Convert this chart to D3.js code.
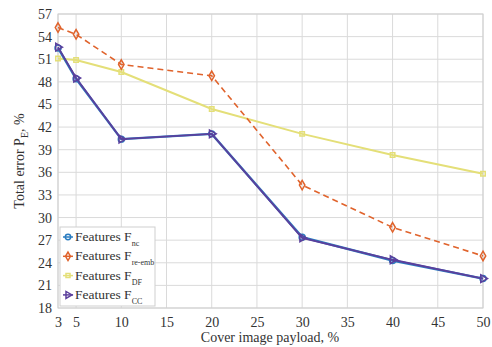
<!DOCTYPE html>
<html><head><meta charset="utf-8">
<script src="https://cdn.jsdelivr.net/npm/d3@7"></script>
<style>body{margin:0;background:#fff}svg{display:block}text{font-family:"Liberation Serif","Times New Roman",serif}</style>
</head><body>
<svg id="c" width="492" height="347"></svg>
<script>
const payload = [3, 5, 10, 20, 30, 40, 50];
const fNc = [52.5, 48.4, 40.4, 41.1, 27.4, 24.3, 21.9];
const fReEmb = [55.2, 54.3, 50.3, 48.8, 34.3, 28.7, 24.9];
const fDF = [51.1, 50.9, 49.3, 44.4, 41.1, 38.3, 35.8];
const fCC = [52.6, 48.5, 40.4, 41.1, 27.3, 24.4, 21.9];
const xTicks = [3, 5, 10, 15, 20, 25, 30, 35, 40, 45, 50];
const yTicks = [18, 21, 24, 27, 30, 33, 36, 39, 42, 45, 48, 51, 54, 57];
const seriesNames = ["nc", "re-emb", "DF", "CC"];

const svg = d3.select("#c");
const L = 58, R = 483, T = 14, B = 308;
const x = d3.scaleLinear().domain([3, 50]).range([L, R]);
const y = d3.scaleLinear().domain([18, 57]).range([B, T]);

// grid
const g = svg.append("g");
g.selectAll(".gx").data(xTicks).enter().append("line")
  .attr("x1", d => x(d)).attr("x2", d => x(d)).attr("y1", T).attr("y2", B)
  .attr("stroke", "#dadada").attr("stroke-width", 1);
g.selectAll(".gy").data(yTicks).enter().append("line")
  .attr("y1", d => y(d)).attr("y2", d => y(d)).attr("x1", L).attr("x2", R)
  .attr("stroke", "#dadada").attr("stroke-width", 1);
svg.append("rect").attr("x", L).attr("y", T).attr("width", R - L).attr("height", B - T)
  .attr("fill", "none").attr("stroke", "#cfcfcf").attr("stroke-width", 1);

// axes labels
const xa = d3.axisBottom(x).tickValues(xTicks).tickSize(0).tickPadding(9);
const xg = svg.append("g").attr("transform", `translate(0,${B})`).call(xa);
xg.select(".domain").remove();
xg.selectAll("text").attr("font-size", 14).attr("fill", "#333").style("font-family", "Liberation Serif");
const ya = d3.axisLeft(y).tickValues(yTicks).tickSize(0).tickPadding(6);
const yg = svg.append("g").attr("transform", `translate(${L},0)`).call(ya);
yg.select(".domain").remove();
yg.selectAll("text").attr("font-size", 14).attr("fill", "#333").style("font-family", "Liberation Serif");

svg.append("text").attr("x", 270).attr("y", 342).attr("text-anchor", "middle")
  .attr("font-size", 14).attr("fill", "#333").text("Cover image payload, %");
const yl = svg.append("text").attr("transform", "translate(24,161) rotate(-90)")
  .attr("text-anchor", "middle").attr("font-size", 14).attr("fill", "#333");
yl.append("tspan").text("Total error P");
yl.append("tspan").attr("font-size", 10).attr("dy", 4).text("E");
yl.append("tspan").attr("dy", -4).text(", %");

const series = [
  {vals: fDF, color: "#e4df78", dash: null, w: 2, sym: d3.symbolSquare, size: 20},
  {vals: fReEmb, color: "#e0632c", dash: "6,4", w: 1.6, sym: d3.symbolDiamond, size: 26},
  {vals: fNc, color: "#2a7cc0", dash: null, w: 2.4, sym: d3.symbolCircle, size: 28},
  {vals: fCC, color: "#5b3f9c", dash: null, w: 1.8, sym: d3.symbolTriangle, size: 26, rot: 90}
];
const line = d3.line().x((d, i) => x(payload[i])).y(d => y(d));
series.forEach(s => {
  svg.append("path").datum(s.vals).attr("d", line).attr("fill", "none")
    .attr("stroke", s.color).attr("stroke-width", s.w)
    .attr("stroke-dasharray", s.dash);
  svg.selectAll(null).data(s.vals).enter().append("path")
    .attr("d", d3.symbol().type(s.sym).size(s.size))
    .attr("transform", (d, i) => `translate(${x(payload[i])},${y(d)}) rotate(${s.rot || 0})`)
    .attr("fill", "none").attr("stroke", s.color).attr("stroke-width", 1.5);
});

// legend
const lg = svg.append("g");
lg.append("rect").attr("x", 60).attr("y", 227).attr("width", 95).attr("height", 79)
  .attr("fill", "#fff").attr("stroke", "#cfcfcf");
const legOrder = [series[2], series[1], series[0], series[3]];
legOrder.forEach((s, i) => {
  const yy = 237 + i * 19.3;
  lg.append("line").attr("x1", 63).attr("x2", 73).attr("y1", yy).attr("y2", yy)
    .attr("stroke", s.color).attr("stroke-width", 1.5);
  lg.append("path").attr("d", d3.symbol().type(s.sym).size(s.size * 0.8))
    .attr("transform", `translate(68,${yy}) rotate(${s.rot || 0})`)
    .attr("fill", "none").attr("stroke", s.color).attr("stroke-width", 1.5);
  const t = lg.append("text").attr("x", 75).attr("y", yy + 4).attr("font-size", 13.5).attr("fill", "#333");
  t.append("tspan").text("Features F");
  t.append("tspan").attr("font-size", 8).attr("dy", 5).text(seriesNames[i]);
});
</script>
</body></html>
